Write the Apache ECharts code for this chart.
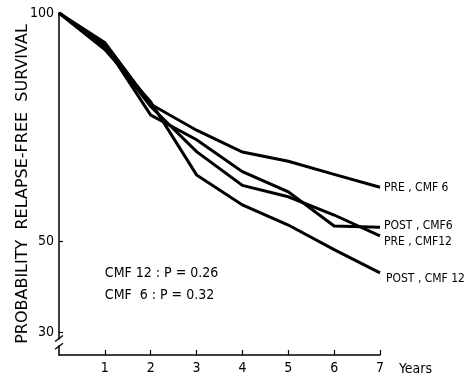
<!DOCTYPE html>
<html>
<head>
<meta charset="utf-8">
<style>html,body{margin:0;padding:0;background:#fff}#c{width:470px;height:380px}</style>
<script src="https://cdn.jsdelivr.net/npm/echarts@6/dist/echarts.min.js"></script>
</head>
<body>
<div id="c"></div>
<script>
const years = [0, 1, 2, 3, 4, 5, 6, 7];
const preCmf6   = [100, 93.5, 80.0, 74.3, 69.5, 67.5, 64.6, 61.8];
const postCmf6  = [100, 93.0, 77.6, 72.2, 65.2, 60.8, 53.3, 53.0];
const preCmf12  = [100, 92.5, 79.5, 69.6, 62.2, 59.7, 55.7, 51.1];
const postCmf12 = [100, 92.0, 80.5, 64.5, 57.9, 53.5, 48.1, 43.0];
const seriesNames = ['PRE , CMF 6', 'POST , CMF6', 'PRE , CMF12', 'POST , CMF 12'];
const yTickLabels = [30, 50, 100];
const xTickLabels = [1, 2, 3, 4, 5, 6, 7];
const pValues = ['CMF 12 : P = 0.26', 'CMF  6 : P = 0.32'];

const NARROW = "'Liberation Sans Narrow', 'DejaVu Sans Condensed', sans-serif";
const WIDE = "'DejaVu Sans', sans-serif";
const chart = echarts.init(document.getElementById('c'), null, {renderer: 'canvas'});

function mk(name, vals, offset) {
  return {
    name: name, type: 'line', data: years.map((x, i) => [x, vals[i]]),
    showSymbol: false, symbol: 'none',
    lineStyle: {color: '#000', width: 3, join: 'miter'},
    itemStyle: {color: '#000'},
    endLabel: {show: true, formatter: name, color: '#000', fontFamily: NARROW, fontSize: 12, offset: offset, distance: 4},
    emphasis: {disabled: true}, animation: false
  };
}

chart.setOption({
  animation: false,
  grid: {left: 59, right: 90, top: 13, bottom: 25, containLabel: false, outerBoundsMode: 'none'},
  xAxis: {
    type: 'value', min: 0, max: 7, interval: 1,
    name: 'Years', nameLocation: 'end', nameGap: 19, nameMoveOverlap: false,
    nameTextStyle: {color: '#000', fontFamily: NARROW, fontSize: 14, verticalAlign: 'top', padding: [7, 0, 0, 0]},
    axisLine: {lineStyle: {color: '#000', width: 1.5}},
    axisTick: {show: true, inside: true, length: 5, lineStyle: {color: '#000', width: 1.2}, customValues: xTickLabels},
    axisLabel: {color: '#000', fontFamily: NARROW, fontSize: 14, margin: 6, customValues: xTickLabels},
    splitLine: {show: false}
  },
  yAxis: {
    type: 'value', min: 25, max: 100, interval: 5,
    name: 'PROBABILITY  RELAPSE-FREE  SURVIVAL', nameLocation: 'middle', nameGap: 28, nameMoveOverlap: false,
    nameTextStyle: {color: '#000', fontFamily: WIDE, fontSize: 16},
    axisLine: {show: true, lineStyle: {color: '#000', width: 1.5}},
    axisTick: {show: true, inside: true, length: 4, lineStyle: {color: '#000', width: 1.2}, customValues: yTickLabels},
    axisLabel: {color: '#000', fontFamily: NARROW, fontSize: 14, margin: 5, customValues: yTickLabels},
    splitLine: {show: false}
  },
  series: [
    mk(seriesNames[0], preCmf6, [0, 1]),
    mk(seriesNames[1], postCmf6, [0, -1]),
    mk(seriesNames[2], preCmf12, [0, 6]),
    mk(seriesNames[3], postCmf12, [2, 6])
  ]
});

// axis break marks and p-value annotations
const p1 = chart.convertToPixel({gridIndex: 0}, [0, 28.6]);
const p2 = chart.convertToPixel({gridIndex: 0}, [0, 26.9]);
const a1 = chart.convertToPixel({gridIndex: 0}, [1, 43]);
const a2 = chart.convertToPixel({gridIndex: 0}, [1, 38]);
const ax = p1[0];
chart.setOption({
  graphic: [
    {type: 'rect', shape: {x: ax - 2, y: p1[1] + 1, width: 4, height: p2[1] - p1[1] - 2}, style: {fill: '#fff'}, z: 100},
    {type: 'line', shape: {x1: ax - 4, y1: p1[1] + 3, x2: ax + 4, y2: p1[1] - 3}, style: {stroke: '#000', lineWidth: 1.3}, z: 101},
    {type: 'line', shape: {x1: ax - 4, y1: p2[1] + 3, x2: ax + 4, y2: p2[1] - 3}, style: {stroke: '#000', lineWidth: 1.3}, z: 101},
    {type: 'text', x: a1[0], y: a1[1], style: {text: pValues[0], fill: '#000', font: '14px ' + NARROW, textVerticalAlign: 'middle'}},
    {type: 'text', x: a2[0], y: a2[1], style: {text: pValues[1], fill: '#000', font: '14px ' + NARROW, textVerticalAlign: 'middle', whiteSpace: 'pre'}}
  ]
});
</script>
</body>
</html>
